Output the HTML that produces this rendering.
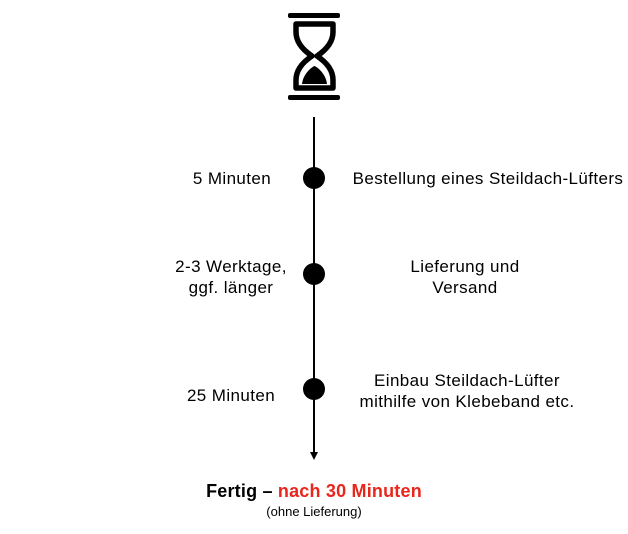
<!DOCTYPE html>
<html><head><style>
body{margin:0;width:628px;height:534px;background:#fff;position:relative;font-family:"Liberation Sans",Arial,sans-serif;overflow:hidden}
.t{position:absolute;font-size:17px;letter-spacing:0.4px;color:#000;text-align:center;line-height:21px;white-space:nowrap}
</style></head><body>
<svg width="628" height="534" style="position:absolute;left:0;top:0">
<rect x="288" y="13" width="52" height="5" rx="2" fill="#000"/>
<rect x="288" y="95" width="52" height="5" rx="2" fill="#000"/>
<path d="M296 24 H333 V32 C333 44 323 52 317 56 C323 60 333 68 333 80 V88 H296 V80 C296 68 306 60 312 56 C306 52 296 44 296 32 Z" fill="none" stroke="#000" stroke-width="5.5" stroke-linejoin="round"/>
<path d="M302 84 C303 75 310 68 314.5 66 C319 68 326 75 327 84 Z" fill="#000"/>
<line x1="314" y1="117" x2="314" y2="453" stroke="#000" stroke-width="2"/>
<polygon points="310,452 318,452 314,460" fill="#000"/>
<circle cx="314" cy="178" r="11" fill="#000"/>
<circle cx="314" cy="274" r="11" fill="#000"/>
<circle cx="314" cy="389" r="11" fill="#000"/>
</svg>
<div class="t" style="left:162px;width:140px;top:168px">5 Minuten</div>
<div class="t" style="left:338px;width:300px;top:168px">Bestellung eines Steildach-Lüfters</div>
<div class="t" style="left:161px;width:140px;top:256px">2-3 Werktage,<br>ggf. länger</div>
<div class="t" style="left:390px;width:150px;top:256px">Lieferung und<br>Versand</div>
<div class="t" style="left:161px;width:140px;top:385px">25 Minuten</div>
<div class="t" style="left:342px;width:250px;top:370px">Einbau Steildach-Lüfter<br>mithilfe von Klebeband etc.</div>
<div class="t" style="left:164px;width:300px;top:481px;font-weight:bold;font-size:18px;letter-spacing:0.2px">Fertig – <span style="color:#e8261c">nach 30 Minuten</span></div>
<div class="t" style="left:214px;width:200px;top:501px;font-size:13px;letter-spacing:0">(ohne Lieferung)</div>
</body></html>
